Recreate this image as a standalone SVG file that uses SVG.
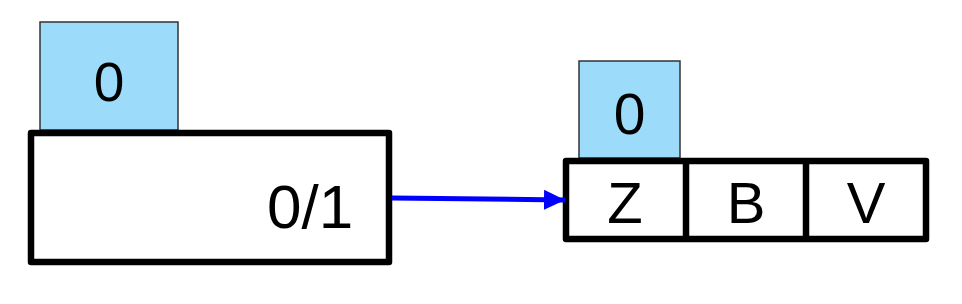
<svg xmlns="http://www.w3.org/2000/svg" width="962" height="304" viewBox="0 0 962 304">
<style>
.tag{fill:#9DDBFA;stroke:#333;stroke-width:1.5}
.box{fill:#fff;stroke:#000;stroke-width:6.5;stroke-linejoin:round}
.div{stroke:#000;stroke-width:6.5}
text{font-family:"Liberation Sans",Arial,sans-serif;fill:#000}
.c{text-anchor:middle}
</style>
<defs>
<marker id="ah" markerUnits="userSpaceOnUse" markerWidth="22" markerHeight="22" refX="21" refY="10" orient="auto">
<path d="M0,0 L21,10 L0,20 Z" fill="#0000FF"/>
</marker>
</defs>
<g id="node-left">
<rect class="tag" x="40" y="22" width="138" height="108"/>
<text class="c" x="109" y="101" font-size="55">0</text>
<rect class="box" x="31" y="133" width="358" height="129"/>
<text x="267" y="228" font-size="62">0/1</text>
</g>
<g id="node-right">
<rect class="tag" x="579" y="61" width="101" height="97"/>
<text class="c" x="629.5" y="134" font-size="57">0</text>
<rect class="box" x="566" y="161" width="360" height="78"/>
<line class="div" x1="686" y1="161" x2="686" y2="239"/>
<line class="div" x1="806" y1="161" x2="806" y2="239"/>
<text class="c" x="625" y="223" font-size="58">Z</text>
<text class="c" x="746" y="223" font-size="58">B</text>
<text class="c" x="866" y="223" font-size="58">V</text>
</g>
<g id="connectors">
<line x1="392" y1="198" x2="565" y2="200" stroke="#0000FF" stroke-width="5" marker-end="url(#ah)"/>
</g>
</svg>
